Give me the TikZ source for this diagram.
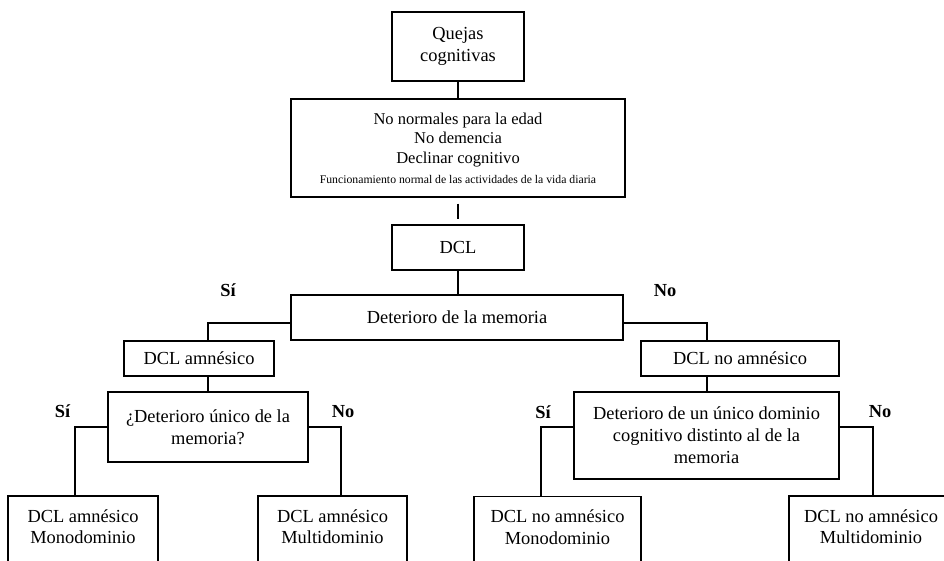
\documentclass[tikz,border=0pt]{standalone}
\usepackage{fontspec}
\setmainfont{Liberation Serif}
\begin{document}
\begin{tikzpicture}[x=0.75pt, y=-0.75pt,
  box/.style={draw, line width=1pt, align=center, inner sep=0pt,
    font=\fontsize{13.8}{16.2}\selectfont},
  sz/.style 2 args={minimum width=#1*0.75pt, minimum height=#2*0.75pt},
  leaf/.style={box, text depth=9pt},
  lbl/.style={inner sep=0pt, font=\fontsize{13.8}{16}\selectfont\bfseries},
  link/.style={draw, line width=1pt}]
\clip (0,0) rectangle (944,560);
\fill[white] (0,0) rectangle (944,560);

% main chain
\node[box, sz={132}{69}, font=\fontsize{13.8}{17}\selectfont] (q) at (458,46.5) {Quejas\\cognitivas};
\node[box, sz={334}{98}, font=\fontsize{12.4}{14.8}\selectfont] (crit) at (458,148)
  {No normales para la edad\\No demencia\\Declinar cognitivo\\
   {\fontsize{8.8}{14.8}\selectfont Funcionamiento normal de las actividades de la vida diaria}};
\node[box, sz={132}{45}] (dcl) at (458,247.5) {DCL};
\node[box, sz={332}{45}] (mem) at (457,317.5) {Deterioro de la memoria};

% second level
\node[box, sz={150}{35}] (am) at (199,358.5) {DCL amnésico};
\node[box, sz={198}{35}] (nam) at (740,358.5) {DCL no amnésico};
\node[box, sz={200}{70}] (q1) at (208,427) {¿Deterioro único de la\\memoria?};
\node[box, sz={265}{87}, font=\fontsize{13.8}{16.5}\selectfont] (q2) at (706.5,435.5)
  {Deterioro de un único dominio\\cognitivo distinto al de la\\memoria};

% outcomes
\node[leaf, sz={150}{73}] (b1) at (83,532.5) {DCL amnésico\\Monodominio};
\node[leaf, sz={149}{73}] (b2) at (332.5,532.5) {DCL amnésico\\Multidominio};
\node[leaf, sz={167}{73}] (b3) at (557.5,533) {DCL no amnésico\\Monodominio};
\node[leaf, sz={164}{73}] (b4) at (871,532.5) {DCL no amnésico\\Multidominio};

% branch labels
\node[lbl] (s1) at (228,290.5) {Sí};
\node[lbl] (n1) at (665,290.5) {No};
\node[lbl] (s2) at (62.5,411.5) {Sí};
\node[lbl] (n2) at (343,411.5) {No};
\node[lbl] (s3) at (543,412) {Sí};
\node[lbl] (n3) at (880,412) {No};

% connectors
\draw[link] (q.south) -- (crit.north);
\draw[link, shorten <=4.5pt, shorten >=3.75pt] (crit.south) -- (dcl.north);
\draw[link] (dcl.south) -- (dcl.south |- mem.north);
\draw[link] ([yshift=-4.1pt]mem.west) -| ([xshift=6.75pt]am.north);
\draw[link] ([yshift=-4.1pt]mem.east) -| ([xshift=-24.75pt]nam.north);
\draw[link] (am.south -| q1.north) -- (q1.north);
\draw[link] ([xshift=0.375pt]nam.south -| q2.north) -- ([xshift=0.375pt]q2.north);
\draw[link] (q1.west) -| ([xshift=-6pt]b1.north);
\draw[link] (q1.east) -| ([xshift=6.4pt]b2.north);
\draw[link] ([yshift=6.4pt]q2.west) -| ([xshift=-12.4pt]b3.north);
\draw[link] ([yshift=6.4pt]q2.east) -| ([xshift=1.5pt]b4.north);
\end{tikzpicture}
\end{document}
